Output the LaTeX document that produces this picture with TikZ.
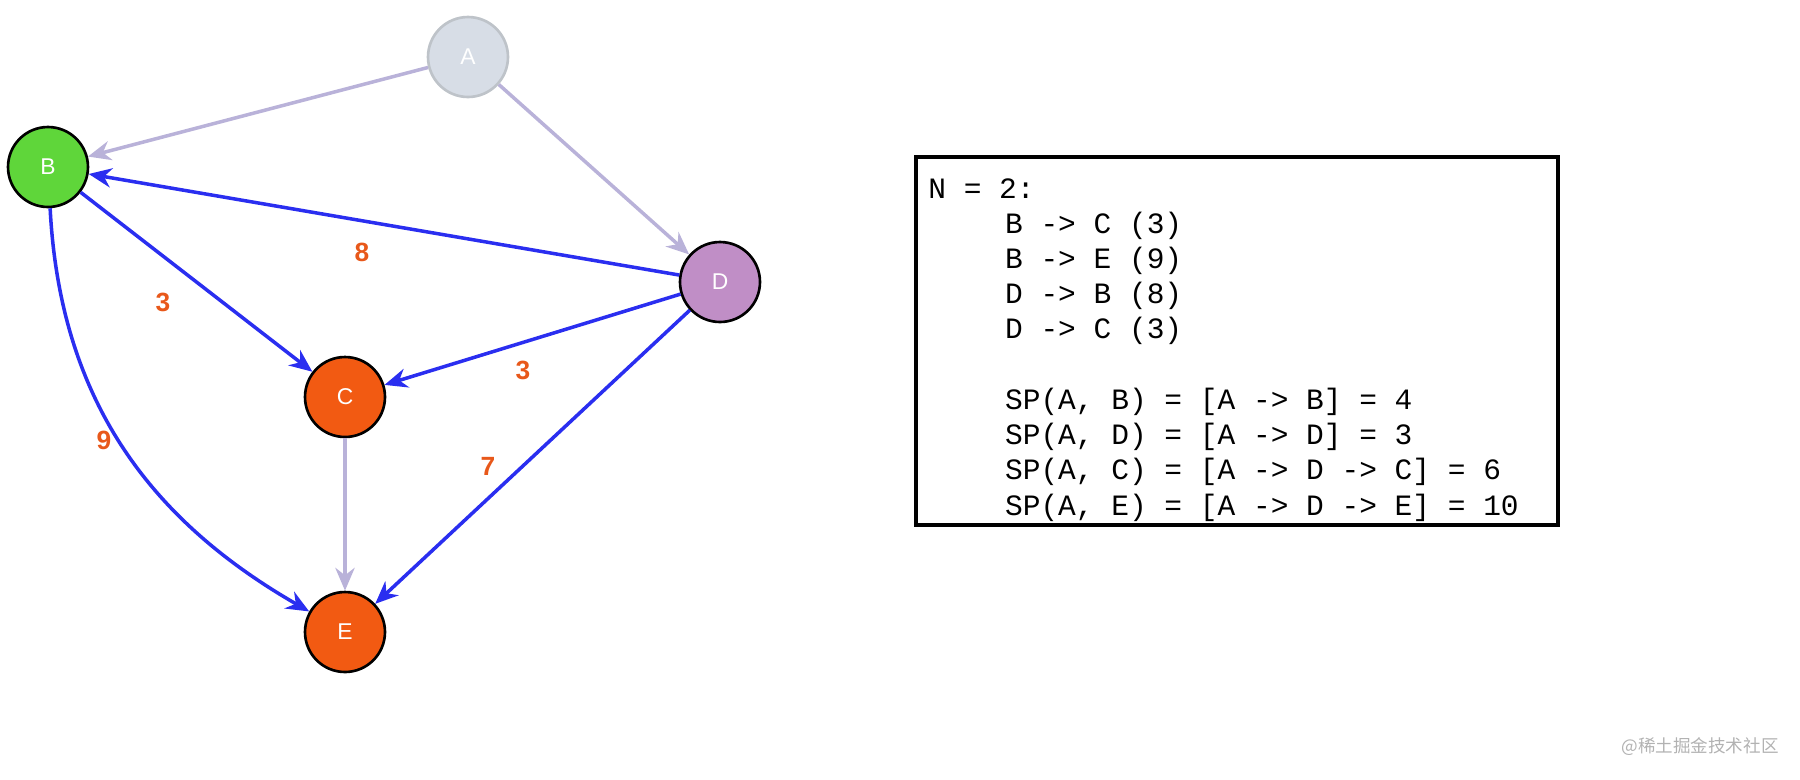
\documentclass[tikz,border=0pt]{standalone}
\usepackage{fontspec}
\setmainfont{Liberation Sans}
\newfontfamily\cjk{Noto Sans CJK SC}
\newfontfamily\mono{Liberation Mono}
\usetikzlibrary{arrows.meta}
\definecolor{gA}{HTML}{D7DDE6}
\definecolor{gB}{HTML}{5FD63A}
\definecolor{gD}{HTML}{C08EC6}
\definecolor{gC}{HTML}{F25A12}
\definecolor{lav}{HTML}{B9B2D9}
\definecolor{blu}{HTML}{2A2EF0}
\definecolor{lbl}{HTML}{E8581A}
\begin{document}
\begin{tikzpicture}[x=0.02cm,y=-0.02cm,
  nd/.style={circle,draw=black,line width=1.5pt,minimum size=1.6cm,inner sep=0pt,text=white,font=\fontsize{13}{13}\selectfont},
  soft/.style={draw=lav,line width=2pt,-{Stealth[length=13pt,width=11pt]}},
  hard/.style={draw=blu,line width=2pt,-{Stealth[length=13pt,width=11pt]}},
  w/.style={text=lbl,font=\bfseries\fontsize{15}{15}\selectfont}]
\useasboundingbox (0,0) rectangle (1800,779);
\node[nd,fill=gA,draw=gA!85!black!90] (A) at (468,57) {A};
\node[nd,fill=gB] (B) at (48,167) {B};
\node[nd,fill=gD] (D) at (720,282) {D};
\node[nd,fill=gC] (C) at (345,397) {C};
\node[nd,fill=gC] (E) at (345,632) {E};
\draw[soft] (A) -- (B);
\draw[soft] (A) -- (D);
\draw[soft] (C) -- (E);
\draw[hard] (D) -- (B);
\draw[hard] (B) -- (C);
\draw[hard] (D) -- (C);
\draw[hard] (D) -- (E);
\draw[hard] (B) .. controls (60,400) and (150,520) .. (E);
\node[w] (l8) at (362,252) {8};
\node[w] (l3a) at (163,302) {3};
\node[w] (l3b) at (523,370) {3};
\node[w] (l9) at (104,440) {9};
\node[w] (l7) at (488,466) {7};
\node[draw=black,line width=2pt,minimum width=12.84cm,minimum height=7.36cm] (box) at (1237,341) {};
\node[anchor=north west,align=left,inner sep=0pt,font=\mono\fontsize{16.8}{18.7}\selectfont] (txt) at (928,178) {%
N = 2:\\[0.08em]
\hspace*{2.6em}B -> C (3)\\[0.08em]
\hspace*{2.6em}B -> E (9)\\[0.08em]
\hspace*{2.6em}D -> B (8)\\[0.08em]
\hspace*{2.6em}D -> C (3)\\[0.08em]
\mbox{}\\[0.08em]
\hspace*{2.6em}SP(A, B) = [A -> B] = 4\\[0.08em]
\hspace*{2.6em}SP(A, D) = [A -> D] = 3\\[0.08em]
\hspace*{2.6em}SP(A, C) = [A -> D -> C] = 6\\[0.08em]
\hspace*{2.6em}SP(A, E) = [A -> D -> E] = 10};
\node[text=gray!60,font=\cjk\fontsize{10}{10}\selectfont] (wm) at (1700,747) {@稀土掘金技术社区};
\end{tikzpicture}
\end{document}
